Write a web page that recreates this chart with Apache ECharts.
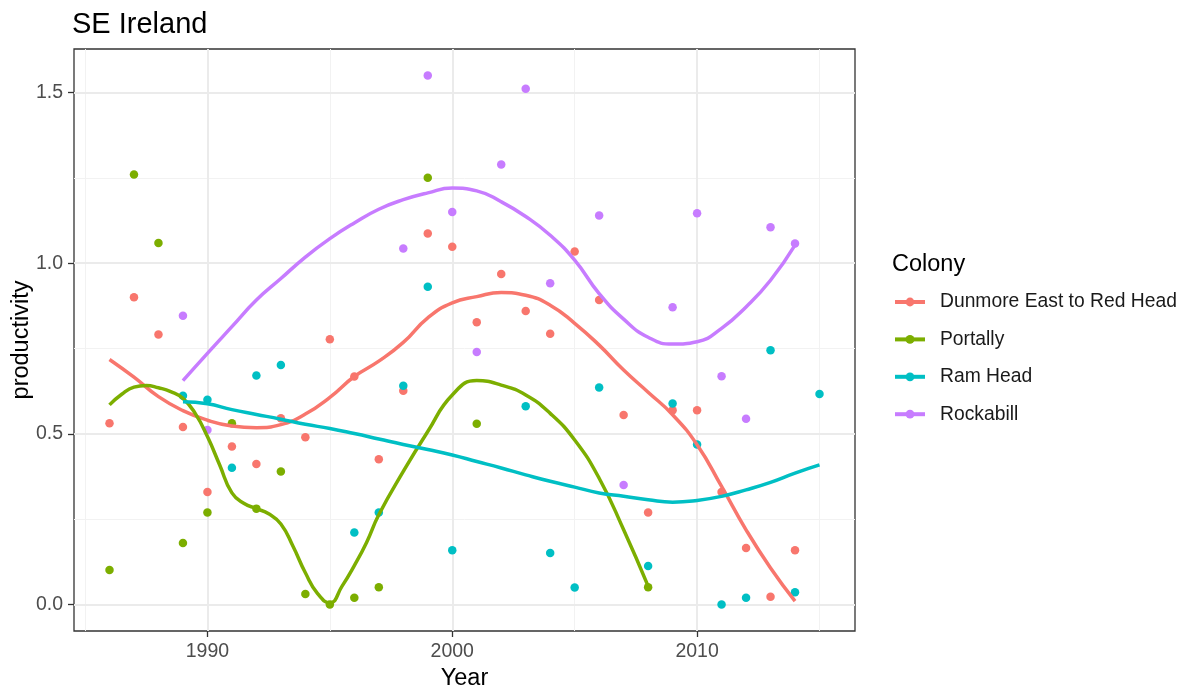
<!DOCTYPE html>
<html>
<head>
<meta charset="utf-8">
<script src="https://cdn.jsdelivr.net/npm/echarts@6/dist/echarts.min.js"></script>
<style>
  html, body { margin: 0; padding: 0; background: #ffffff; }
  #chart { width: 1183px; height: 693px; }
</style>
</head>
<body>
<div id="chart"></div>
<script>
// ---- Colonies and colours ----
const colonies = ['Dunmore East to Red Head', 'Portally', 'Ram Head', 'Rockabill'];
const colonyColors = ['#F8766D', '#7CAE00', '#00BFC4', '#C77CFF'];

// ---- Observed productivity per year ----
const dunmoreYears = [1986, 1987, 1988, 1989, 1990, 1991, 1992, 1993, 1994, 1995, 1996, 1997, 1998, 1999, 2000,
                      2001, 2002, 2003, 2004, 2005, 2006, 2007, 2008, 2009, 2010, 2011, 2012, 2013, 2014];
const dunmoreValues = [0.531, 0.900, 0.791, 0.520, 0.330, 0.463, 0.412, 0.546, 0.490, 0.777, 0.668, 0.426, 0.626, 1.087, 1.048,
                       0.827, 0.968, 0.860, 0.793, 1.034, 0.892, 0.555, 0.270, 0.569, 0.569, 0.330, 0.166, 0.023, 0.159];

const portallyYears = [1986, 1987, 1988, 1989, 1990, 1991, 1992, 1993, 1994, 1995, 1996, 1997, 1999, 2001, 2008];
const portallyValues = [0.101, 1.260, 1.059, 0.180, 0.270, 0.531, 0.281, 0.390, 0.031, 0.000, 0.020, 0.051, 1.250, 0.530, 0.051];

const ramYears = [1989, 1990, 1991, 1992, 1993, 1996, 1997, 1998, 1999, 2000, 2003, 2004, 2005, 2006, 2008,
                  2009, 2010, 2011, 2012, 2013, 2014, 2015];
const ramValues = [0.612, 0.600, 0.401, 0.671, 0.702, 0.211, 0.270, 0.641, 0.931, 0.159, 0.581, 0.151, 0.050, 0.636, 0.113,
                   0.589, 0.469, 0.000, 0.020, 0.745, 0.036, 0.617];

const rockYears = [1989, 1990, 1998, 1999, 2000, 2001, 2002, 2003, 2004, 2006, 2007, 2009, 2010, 2011, 2012, 2013, 2014];
const rockValues = [0.846, 0.511, 1.043, 1.550, 1.150, 0.740, 1.289, 1.511, 0.941, 1.140, 0.350, 0.871, 1.146, 0.669, 0.544, 1.105, 1.058];

// ---- Smoothed trend per colony ----
const dunmoreFitYears = [1986, 1987, 1988, 1989, 1990, 1991, 1992, 1993, 1994, 1995, 1996, 1997, 1998, 1999, 2000,
                         2001, 2002, 2003, 2004, 2005, 2006, 2007, 2008, 2009, 2010, 2011, 2012, 2013, 2014];
const dunmoreFit = [0.718, 0.666, 0.609, 0.568, 0.540, 0.523, 0.518, 0.527, 0.558, 0.607, 0.668, 0.713, 0.768, 0.840, 0.884,
                    0.902, 0.914, 0.906, 0.877, 0.824, 0.760, 0.687, 0.622, 0.556, 0.468, 0.346, 0.219, 0.107, 0.010];

const portallyFitYears = [1986, 1986.5, 1987, 1987.5, 1988, 1988.5, 1989, 1989.5, 1990, 1990.5, 1991, 1991.5, 1992, 1992.5,
                          1993, 1993.5, 1994, 1994.5, 1995, 1995.5, 1996, 1996.5, 1997, 1998, 1999, 2000,
                          2001, 2002, 2003, 2004, 2005, 2006, 2007, 2008];
const portallyFit = [0.585, 0.616, 0.637, 0.642, 0.635, 0.624, 0.604, 0.560, 0.492, 0.409, 0.327, 0.296, 0.281, 0.266,
                     0.236, 0.170, 0.093, 0.032, 0.005, 0.054, 0.114, 0.182, 0.263, 0.390, 0.507, 0.614,
                     0.656, 0.643, 0.614, 0.560, 0.482, 0.370, 0.219, 0.054];

const ramFitYears = [1989, 1990, 1991, 1992, 1993, 1994, 1995, 1996, 1997, 1998, 1999, 2000, 2001, 2002, 2003,
                     2004, 2005, 2006, 2007, 2008, 2009, 2010, 2011, 2012, 2013, 2014, 2015];
const ramFit = [0.594, 0.588, 0.571, 0.557, 0.543, 0.528, 0.516, 0.501, 0.485, 0.469, 0.454, 0.438, 0.419, 0.400, 0.380,
                0.361, 0.344, 0.327, 0.317, 0.307, 0.300, 0.305, 0.317, 0.336, 0.358, 0.385, 0.409];

const rockFitYears = [1989, 1990, 1991, 1992, 1993, 1994, 1995, 1996, 1997, 1998, 1999, 2000, 2001, 2002, 2003,
                      2004, 2005, 2006, 2007, 2008, 2009, 2010, 2011, 2012, 2013, 2014];
const rockFit = [0.656, 0.736, 0.814, 0.892, 0.955, 1.018, 1.072, 1.118, 1.158, 1.186, 1.206, 1.220, 1.212, 1.180, 1.137,
                 1.082, 1.009, 0.911, 0.836, 0.783, 0.763, 0.770, 0.809, 0.872, 0.950, 1.053];

// ---- Axis ticks and extents ----
const xMajorTicks = [1990, 2000, 2010];
const xMinorTicks = [1985, 1995, 2005, 2015];
const yMajorTicks = [0, 0.5, 1.0, 1.5];
const yMinorTicks = [0.25, 0.75, 1.25];
const xExtent = [1984.55, 2016.45];
const yExtent = [-0.0775, 1.6275];

const FONT = '"Liberation Sans", Arial, Helvetica, sans-serif';

const observed = [
  [dunmoreYears, dunmoreValues],
  [portallyYears, portallyValues],
  [ramYears, ramValues],
  [rockYears, rockValues]
];
const fitted = [
  [dunmoreFitYears, dunmoreFit],
  [portallyFitYears, portallyFit],
  [ramFitYears, ramFit],
  [rockFitYears, rockFit]
];

const pairs = (xs, ys) => xs.map((x, i) => [x, ys[i]]);

// Panel grid lines, placed through the axes' own scales
const majorGrid = { color: '#EBEBEB', width: 2, type: 'solid' };
const minorGrid = { color: '#F2F2F2', width: 1, type: 'solid' };
const gridLines = [].concat(
  xMinorTicks.map(v => ({ xAxis: v, lineStyle: minorGrid })),
  yMinorTicks.map(v => ({ yAxis: v, lineStyle: minorGrid })),
  xMajorTicks.map(v => ({ xAxis: v, lineStyle: majorGrid })),
  yMajorTicks.map(v => ({ yAxis: v, lineStyle: majorGrid }))
);

const series = [];

// Smoothed trend lines (listed first so the legend shows line + dot keys)
colonies.forEach((name, i) => {
  series.push({
    name: name,
    type: 'line',
    data: pairs(fitted[i][0], fitted[i][1]),
    smooth: true,
    symbol: 'circle',
    symbolSize: 8,
    showSymbol: false,
    z: 4,
    lineStyle: { color: colonyColors[i], width: 3.5 },
    itemStyle: { color: colonyColors[i] },
    emphasis: { disabled: true },
    silent: true
  });
});

// Observed points
colonies.forEach((name, i) => {
  series.push({
    name: name,
    type: 'scatter',
    data: pairs(observed[i][0], observed[i][1]),
    symbol: 'circle',
    symbolSize: 8.5,
    z: 3,
    itemStyle: { color: colonyColors[i], opacity: 1 },
    emphasis: { disabled: true },
    silent: true
  });
});

// Background grid lines
series.push({
  name: '__grid',
  type: 'scatter',
  data: [],
  silent: true,
  z: 1,
  markLine: {
    silent: true,
    z: 1,
    animation: false,
    symbol: ['none', 'none'],
    label: { show: false },
    emphasis: { disabled: true },
    data: gridLines
  }
});

const chart = echarts.init(document.getElementById('chart'), null, { renderer: 'canvas' });
chart.setOption({
  animation: false,
  backgroundColor: '#ffffff',
  textStyle: { fontFamily: FONT },
  title: [
    {
      text: 'SE Ireland',
      left: 67,
      top: 5,
      textStyle: { fontFamily: FONT, fontSize: 29, fontWeight: 'normal', color: '#000000' }
    },
    {
      text: 'Colony',
      left: 887,
      top: 248,
      textStyle: { fontFamily: FONT, fontSize: 23.5, fontWeight: 'normal', color: '#000000' }
    }
  ],
  legend: {
    data: colonies,
    orient: 'vertical',
    left: 888,
    top: 287,
    itemWidth: 30,
    itemHeight: 11,
    itemGap: 17.4,
    selectedMode: false,
    lineStyle: { width: 4 },
    textStyle: { fontFamily: FONT, fontSize: 19.3, color: '#1a1a1a', lineHeight: 20, padding: [0, 0, 0, 10] }
  },
  grid: {
    left: 74,
    right: 328,
    top: 49,
    bottom: 62,
    containLabel: false,
    outerBoundsMode: 'none',
    show: true,
    backgroundColor: '#ffffff',
    borderColor: '#333333',
    borderWidth: 1.3
  },
  xAxis: {
    type: 'value',
    min: xExtent[0],
    max: xExtent[1],
    name: 'Year',
    nameLocation: 'middle',
    nameGap: 34,
    nameTextStyle: { fontFamily: FONT, fontSize: 23.5, color: '#000000' },
    axisLine: { show: false, onZero: false },
    splitLine: { show: false },
    axisTick: { show: true, customValues: xMajorTicks, length: 6, lineStyle: { color: '#333333', width: 1.3 } },
    axisLabel: {
      customValues: xMajorTicks,
      margin: 11,
      fontFamily: FONT,
      fontSize: 19.5,
      color: '#4D4D4D',
      formatter: v => String(v)
    }
  },
  yAxis: {
    type: 'value',
    min: yExtent[0],
    max: yExtent[1],
    name: 'productivity',
    nameLocation: 'middle',
    nameGap: 40,
    nameMoveOverlap: false,
    nameTextStyle: { fontFamily: FONT, fontSize: 23.5, color: '#000000' },
    axisLine: { show: false, onZero: false },
    splitLine: { show: false },
    axisTick: { show: true, customValues: yMajorTicks, length: 6, lineStyle: { color: '#333333', width: 1.3 } },
    axisLabel: {
      customValues: yMajorTicks,
      margin: 11,
      fontFamily: FONT,
      fontSize: 19.5,
      color: '#4D4D4D',
      formatter: v => v.toFixed(1)
    }
  },
  series: series
});
</script>
</body>
</html>
